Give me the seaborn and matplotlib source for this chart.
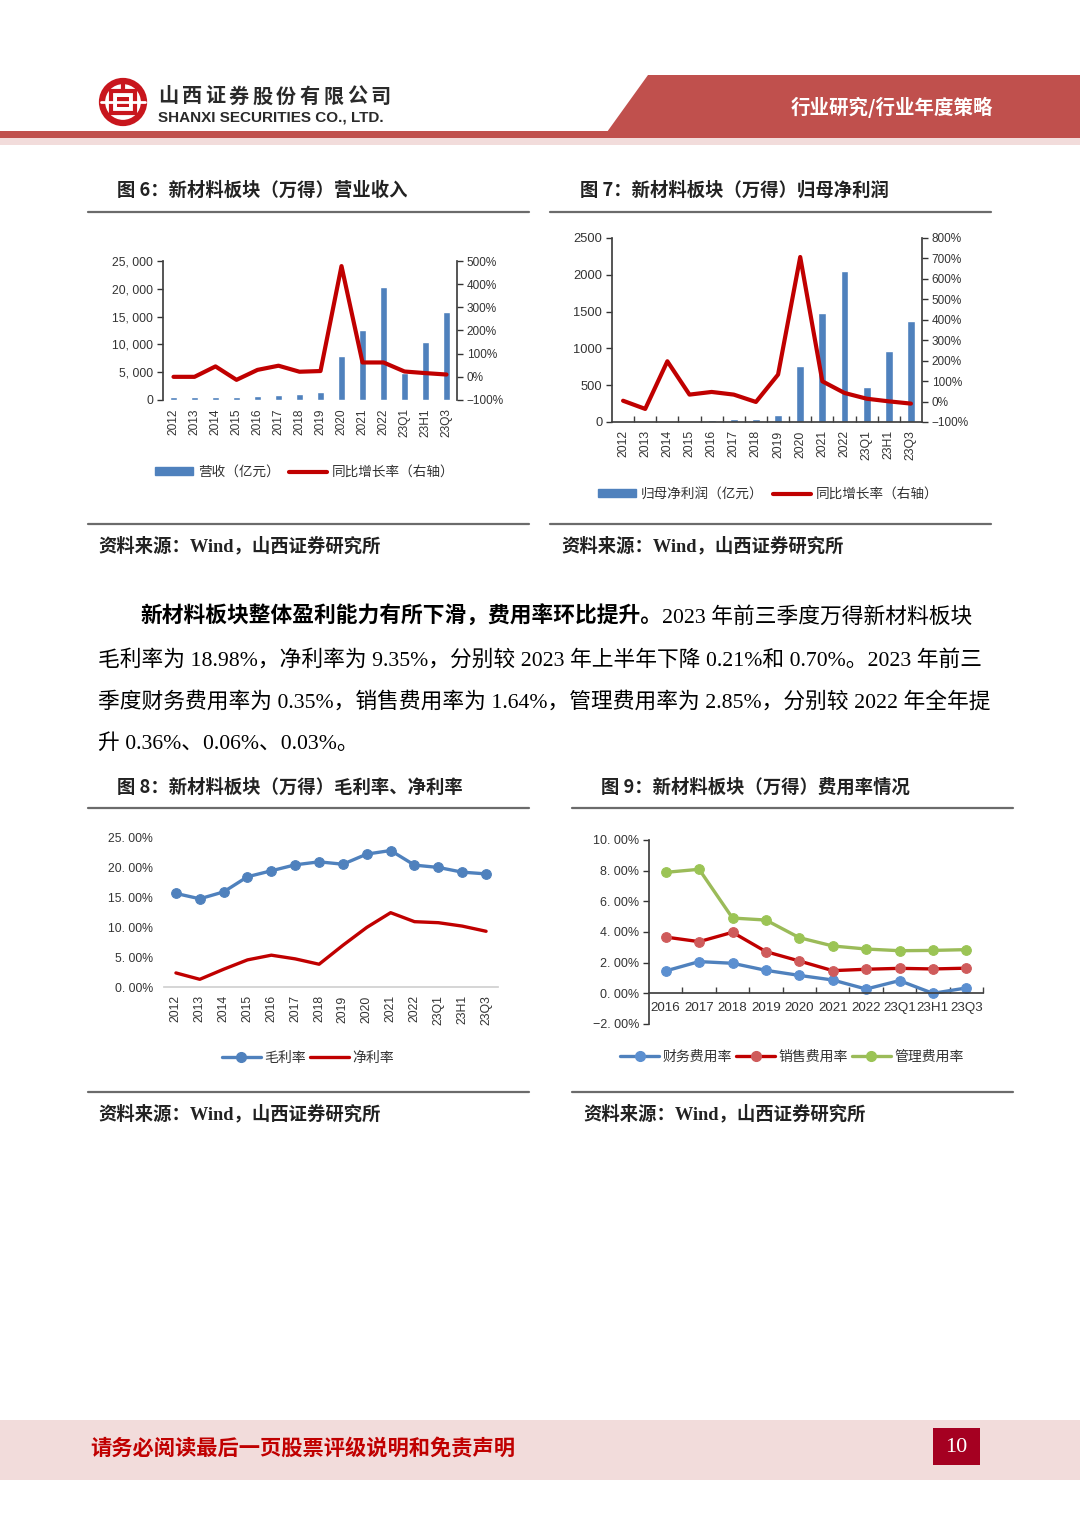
import numpy as np
import pandas as pd
import matplotlib
matplotlib.use("Agg")
import matplotlib.pyplot as plt
import seaborn as sns
from matplotlib.patches import Polygon, Rectangle, Circle, Patch
from matplotlib.lines import Line2D
from matplotlib.ticker import FixedLocator

# ---------------- data ----------------
cats_a = ["2012", "2013", "2014", "2015", "2016", "2017", "2018", "2019",
          "2020", "2021", "2022", "23Q1", "23H1", "23Q3"]
revenue = [480, 480, 600, 550, 700, 950, 1100, 1400, 7950, 12650, 20400, 4800, 10350, 15800]
revenue_yoy = [0, 0, 45, -13, 30, 48, 22, 25, 478, 62, 62, 23, 16, 10]
profit = [3, 3, 8, 12, 25, 40, 35, 100, 765, 1476, 2056, 480, 970, 1377]
profit_yoy = [4, -36, 197, 34, 47, 34, -2, 132, 707, 99, 42, 14, 1, -10]
gross_margin = [15.7, 14.8, 15.96, 18.5, 19.5, 20.5, 21.0, 20.6, 22.3, 22.9, 20.45, 20.06, 19.27, 18.98]
net_margin = [2.36, 1.29, 2.98, 4.55, 5.34, 4.72, 3.82, 7.0, 10.0, 12.47, 10.96, 10.79, 10.22, 9.35]
cats_b = ["2016", "2017", "2018", "2019", "2020", "2021", "2022", "23Q1", "23H1", "23Q3"]
fin_rate = [1.46, 2.07, 1.96, 1.5, 1.17, 0.87, 0.28, 0.83, 0.0, 0.35]
sales_rate = [3.67, 3.37, 3.98, 2.72, 2.11, 1.48, 1.57, 1.63, 1.59, 1.64]
admin_rate = [7.89, 8.09, 4.91, 4.78, 3.63, 3.09, 2.89, 2.78, 2.80, 2.85]

# ---------------- style ----------------
sns.set_theme(style="white")
plt.rcParams["font.family"] = ["Liberation Sans", "Noto Sans CJK SC", "DejaVu Sans"]
plt.rcParams["axes.unicode_minus"] = False
CJK = ["Noto Sans CJK SC", "DejaVu Sans"]
SERIF = ["Liberation Serif", "Noto Sans CJK SC", "DejaVu Sans"]

W, H = 1080, 1526
fig = plt.figure(figsize=(W / 100, H / 100), dpi=100)
fig.patch.set_facecolor("white")

def rect(x0, y0, x1, y1):
    return [x0 / W, 1 - y1 / H, (x1 - x0) / W, (y1 - y0) / H]

# background axes in pixel coordinates
bg = fig.add_axes([0, 0, 1, 1], zorder=-10)
bg.set_xlim(0, W)
bg.set_ylim(H, 0)
bg.axis("off")

RED_HDR = "#C0504D"
PINK = "#F2DCDB"
TXT = "#222222"

# header
bg.add_patch(Polygon([[648, 75], [W, 75], [W, 132], [607, 132]], closed=True, color=RED_HDR, lw=0))
bg.add_patch(Rectangle((0, 131), W, 7, color=RED_HDR, lw=0))
bg.add_patch(Rectangle((0, 138), W, 7, color=PINK, lw=0))
bg.text(892, 107, "行业研究/行业年度策略", color="white", fontsize=14, fontweight="bold",
        family=CJK, ha="center", va="center")
# logo
bg.add_patch(Circle((123, 102), 21, facecolor="white", edgecolor="#C8161D", lw=4.5))
bg.add_patch(Rectangle((111, 91), 24, 22, facecolor="none", edgecolor="#C8161D", lw=3))
bg.add_patch(Rectangle((117, 97), 12, 10, facecolor="#C8161D", edgecolor="none"))
bg.plot([101, 145], [102, 102], color="white", lw=2)
bg.plot([123, 123], [80, 90], color="#C8161D", lw=3)
company = "山西证券股份有限公司"
for i, ch in enumerate(company):
    bg.text(158 + i * 23.6, 96, ch, color="#2a2a2a", fontsize=14.5, fontweight="bold",
            family=CJK, ha="left", va="center")
bg.text(158, 117, "SHANXI SECURITIES CO., LTD.", color="#2a2a2a", fontsize=11, fontweight="bold",
        family=["Liberation Sans", "DejaVu Sans"], ha="left", va="center")

# footer
bg.add_patch(Rectangle((0, 1420), W, 60, color=PINK, lw=0))
bg.text(90, 1448, "请务必阅读最后一页股票评级说明和免责声明", color="#C00000", fontsize=15.3,
        fontweight="bold", family=CJK, ha="left", va="center")
bg.add_patch(Rectangle((933, 1428), 47, 37, color="#A50021", lw=0))
bg.text(956.5, 1447, "10", color="white", fontsize=16, family=SERIF, ha="center", va="center")

# figure titles / separators / sources
def frame(x0, x1, ytitle, ytop, ybot, title, tx, sx):
    bg.text(tx, ytitle, title, fontsize=13.2, fontweight="bold", family=CJK, color=TXT,
            ha="left", va="center")
    bg.plot([x0, x1], [ytop, ytop], color="#6b6b6b", lw=1.6)
    bg.plot([x0, x1], [ybot, ybot], color="#6b6b6b", lw=1.6)
    bg.text(sx, ybot + 22, "资料来源：Wind，山西证券研究所", fontsize=13.2, fontweight="bold",
            family=["Liberation Serif", "Noto Sans CJK SC"], color=TXT, ha="left", va="center")

frame(88, 529, 190, 212, 524, "图 6：新材料板块（万得）营业收入", 117, 98)
frame(550, 991, 190, 212, 524, "图 7：新材料板块（万得）归母净利润", 580, 561)
frame(88, 529, 787, 808, 1092, "图 8：新材料板块（万得）毛利率、净利率", 117, 98)
frame(572, 1013, 787, 808, 1092, "图 9：新材料板块（万得）费用率情况", 601, 583)

# paragraph
PFS = 15.65
t0 = bg.text(140, 617, "新材料板块整体盈利能力有所下滑，费用率环比提升。", fontsize=PFS,
             fontweight="bold", family=SERIF, color="black", ha="left", va="center")
fig.canvas.draw()
ext = t0.get_window_extent(renderer=fig.canvas.get_renderer())
x_end = ext.x1  # display px == figure px
bg.text(x_end, 617, "2023 年前三季度万得新材料板块", fontsize=PFS, family=SERIF,
        color="black", ha="left", va="center")
para = ["毛利率为 18.98%，净利率为 9.35%，分别较 2023 年上半年下降 0.21%和 0.70%。2023 年前三",
        "季度财务费用率为 0.35%，销售费用率为 1.64%，管理费用率为 2.85%，分别较 2022 年全年提",
        "升 0.36%、0.06%、0.03%。"]
for i, line in enumerate(para):
    bg.text(98, 660 + i * 42, line, fontsize=PFS, family=SERIF, color="black",
            ha="left", va="center")

BLUE = "#4F81BD"
DRED = "#C00000"
TICKC = "#333333"

def pct_fmt(v):
    s = f"{abs(v):.2f}%".replace(".", ". ")
    return ("−" if v < 0 else "") + s

# ---------------- chart 6 ----------------
ax1 = fig.add_axes(rect(163, 261, 457, 400))
df1 = pd.DataFrame({"cat": cats_a, "rev": revenue, "yoy": revenue_yoy, "pos": np.arange(len(cats_a))})
sns.barplot(data=df1, x="cat", y="rev", color=BLUE, saturation=1, width=0.34, ax=ax1)
ax1.set_xlim(-0.5, len(cats_a) - 0.5)
ax1.set_ylim(0, 25000)
ax1.set_yticks(np.arange(0, 25001, 5000))
ax1.set_yticklabels([f"{v:,}".replace(",", ", ") for v in range(0, 25001, 5000)])
ax1.set_xlabel("")
ax1.set_ylabel("")
ax1.tick_params(axis="y", direction="out", length=4, width=1, colors=TICKC, labelsize=8.8, left=True, pad=3)
ax1.tick_params(axis="x", length=0, labelsize=8.6, labelcolor=TICKC, rotation=90, pad=6)
for sp in ["top", "bottom", "right"]:
    ax1.spines[sp].set_visible(False)
ax1.spines["left"].set_color("#404040")
ax1r = ax1.twinx()
sns.lineplot(data=df1, x="pos", y="yoy", color=DRED, lw=3, ax=ax1r, legend=False)
ax1r.set_ylim(-100, 500)
ax1r.set_yticks(np.arange(-100, 501, 100))
ax1r.set_yticklabels([("−" if v < 0 else "") + f"{abs(v)}%" for v in range(-100, 501, 100)])
ax1r.set_ylabel("")
ax1r.tick_params(axis="y", direction="out", length=4, width=1, colors=TICKC, labelsize=8.5, right=True, pad=3)
for sp in ["top", "bottom", "left"]:
    ax1r.spines[sp].set_visible(False)
ax1r.spines["right"].set_color("#404040")
ax1r.set_xlim(-0.5, len(cats_a) - 0.5)
fig.legend(handles=[Patch(color=BLUE), Line2D([], [], color=DRED, lw=3)],
           labels=["营收（亿元）", "同比增长率（右轴）"], loc="center",
           bbox_to_anchor=(305 / W, 1 - 472 / H), ncol=2, frameon=False,
           prop={"family": CJK, "size": 9.8}, handlelength=2.8, handleheight=0.55,
           handletextpad=0.35, columnspacing=0.7, labelcolor=TICKC)

# ---------------- chart 7 ----------------
ax2 = fig.add_axes(rect(612, 238, 922, 422))
df2 = pd.DataFrame({"cat": cats_a, "np": profit, "yoy": profit_yoy, "pos": np.arange(len(cats_a))})
sns.barplot(data=df2, x="cat", y="np", color=BLUE, saturation=1, width=0.36, ax=ax2)
ax2.set_xlim(-0.5, len(cats_a) - 0.5)
ax2.set_ylim(0, 2500)
ax2.set_yticks(np.arange(0, 2501, 500))
ax2.set_xlabel("")
ax2.set_ylabel("")
ax2.tick_params(axis="y", direction="out", length=4, width=1, colors=TICKC, labelsize=9.3, left=True, pad=3)
ax2.tick_params(axis="x", which="major", length=0, labelsize=8.8, labelcolor=TICKC, rotation=90, pad=6)
ax2.xaxis.set_minor_locator(FixedLocator(np.arange(0.5, len(cats_a) - 1, 1.0)))
ax2.tick_params(axis="x", which="minor", direction="in", length=4, width=1, color="#404040", bottom=True)
for sp in ["top", "right"]:
    ax2.spines[sp].set_visible(False)
ax2.spines["left"].set_color("#404040")
ax2.spines["bottom"].set_color("#404040")
ax2r = ax2.twinx()
sns.lineplot(data=df2, x="pos", y="yoy", color=DRED, lw=3, ax=ax2r, legend=False)
ax2r.set_ylim(-100, 800)
ax2r.set_yticks(np.arange(-100, 801, 100))
ax2r.set_yticklabels([("−" if v < 0 else "") + f"{abs(v)}%" for v in range(-100, 801, 100)])
ax2r.set_ylabel("")
ax2r.tick_params(axis="y", direction="out", length=4, width=1, colors=TICKC, labelsize=8.5, right=True, pad=3)
for sp in ["top", "bottom", "left"]:
    ax2r.spines[sp].set_visible(False)
ax2r.spines["right"].set_color("#404040")
ax2r.set_xlim(-0.5, len(cats_a) - 0.5)
fig.legend(handles=[Patch(color=BLUE), Line2D([], [], color=DRED, lw=3)],
           labels=["归母净利润（亿元）", "同比增长率（右轴）"], loc="center",
           bbox_to_anchor=(768 / W, 1 - 494 / H), ncol=2, frameon=False,
           prop={"family": CJK, "size": 9.8}, handlelength=2.8, handleheight=0.55,
           handletextpad=0.35, columnspacing=0.7, labelcolor=TICKC)

# ---------------- chart 8 ----------------
ax3 = fig.add_axes(rect(164, 838, 498, 987))
df3 = pd.DataFrame({"pos": np.arange(len(cats_a)), "gm": gross_margin, "nm": net_margin})
sns.lineplot(data=df3, x="pos", y="gm", color=BLUE, lw=2.4, marker="o", markersize=7,
             markeredgecolor=BLUE, ax=ax3, legend=False)
sns.lineplot(data=df3, x="pos", y="nm", color=DRED, lw=2.4, ax=ax3, legend=False)
ax3.set_xlim(-0.5, len(cats_a) - 0.5)
ax3.set_ylim(0, 25)
ax3.set_yticks(np.arange(0, 26, 5))
ax3.set_yticklabels([pct_fmt(v) for v in range(0, 26, 5)])
ax3.set_xticks(np.arange(len(cats_a)))
ax3.set_xticklabels(cats_a, rotation=90)
ax3.set_xlabel("")
ax3.set_ylabel("")
ax3.tick_params(axis="y", length=0, labelsize=8.8, labelcolor=TICKC, pad=8)
ax3.tick_params(axis="x", length=0, labelsize=8.8, labelcolor=TICKC, pad=6)
for sp in ["top", "right", "left"]:
    ax3.spines[sp].set_visible(False)
ax3.spines["bottom"].set_color("#D0D0D0")
fig.legend(handles=[Line2D([], [], color=BLUE, lw=2.4, marker="o", markersize=7),
                    Line2D([], [], color=DRED, lw=2.4)],
           labels=["毛利率", "净利率"], loc="center",
           bbox_to_anchor=(308 / W, 1 - 1058 / H), ncol=2, frameon=False,
           prop={"family": CJK, "size": 10}, handlelength=2.8,
           handletextpad=0.25, columnspacing=0.3, labelcolor=TICKC)

# ---------------- chart 9 ----------------
ax4 = fig.add_axes(rect(649, 840, 983, 1024))
df4 = pd.DataFrame({"pos": np.arange(len(cats_b)), "fin": fin_rate, "sal": sales_rate, "adm": admin_rate})
series4 = [("fin", "#4F81BD", "#5B8FD0", "财务费用率"),
           ("sal", "#C00000", "#CF5B5B", "销售费用率"),
           ("adm", "#9BBB59", "#9BC455", "管理费用率")]
for col, lc, mc, _ in series4:
    sns.lineplot(data=df4, x="pos", y=col, color=lc, lw=2.4, marker="o", markersize=7,
                 markerfacecolor=mc, markeredgecolor=mc, ax=ax4, legend=False)
ax4.set_xlim(-0.5, len(cats_b) - 0.5)
ax4.set_ylim(-2, 10)
ax4.set_yticks(np.arange(-2, 11, 2))
ax4.set_yticklabels([pct_fmt(v) for v in range(-2, 11, 2)])
ax4.set_xticks(np.arange(len(cats_b)))
ax4.set_xticklabels(cats_b)
ax4.xaxis.set_minor_locator(FixedLocator(np.arange(0.5, len(cats_b), 1.0)))
ax4.set_xlabel("")
ax4.set_ylabel("")
ax4.tick_params(axis="y", direction="out", length=4, width=1, colors=TICKC, labelsize=9, left=True, pad=3)
ax4.tick_params(axis="x", which="major", length=0, labelsize=9.6, labelcolor=TICKC, pad=6)
ax4.tick_params(axis="x", which="minor", direction="in", length=4, width=1, color="#404040", bottom=True)
ax4.spines["bottom"].set_position(("data", 0))
for sp in ["top", "right"]:
    ax4.spines[sp].set_visible(False)
ax4.spines["left"].set_color("#404040")
ax4.spines["bottom"].set_color("#404040")
fig.legend(handles=[Line2D([], [], color=lc, lw=2.4, marker="o", markersize=7,
                           markerfacecolor=mc, markeredgecolor=mc) for _, lc, mc, _ in series4],
           labels=[lab for *_, lab in series4], loc="center",
           bbox_to_anchor=(792 / W, 1 - 1057 / H), ncol=3, frameon=False,
           prop={"family": CJK, "size": 10}, handlelength=2.8,
           handletextpad=0.25, columnspacing=0.3, labelcolor=TICKC)

fig.savefig("out.png", dpi=100, facecolor="white")
